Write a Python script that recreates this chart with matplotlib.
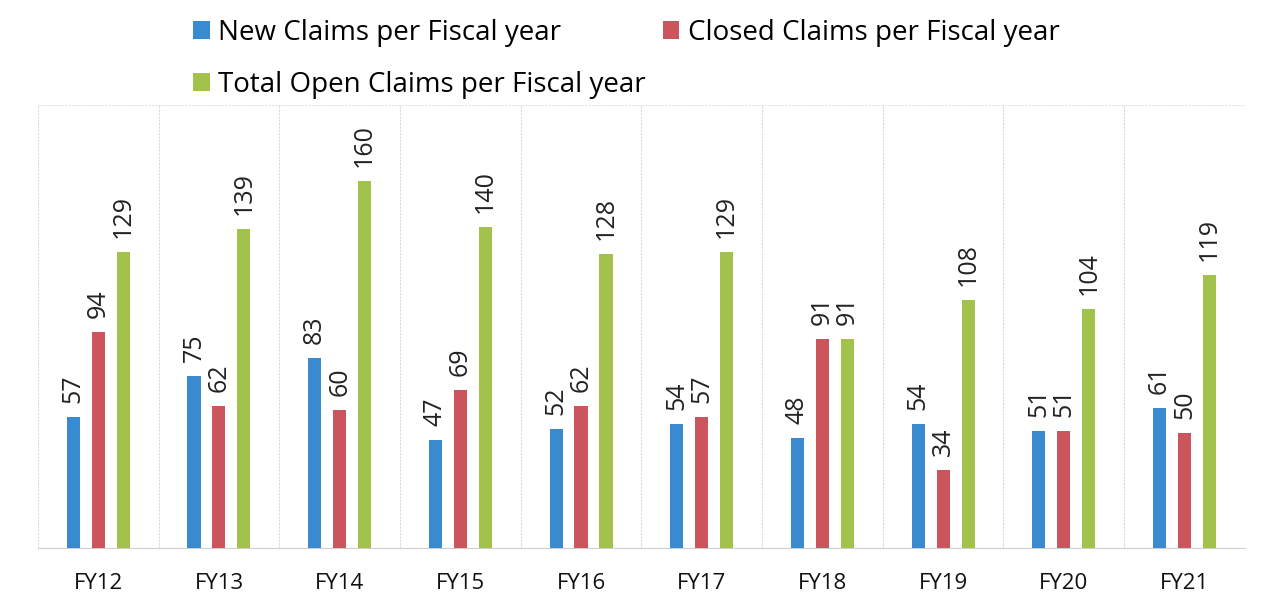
import numpy as np
import matplotlib
matplotlib.use("Agg")
import matplotlib.pyplot as plt

years = ["FY12", "FY13", "FY14", "FY15", "FY16", "FY17", "FY18", "FY19", "FY20", "FY21"]
new_claims = [57, 75, 83, 47, 52, 54, 48, 54, 51, 61]
closed_claims = [94, 62, 60, 69, 62, 57, 91, 34, 51, 50]
open_claims = [129, 139, 160, 140, 128, 129, 91, 108, 104, 119]

series = [
    ("New Claims per Fiscal year", new_claims, "#3a8ad0"),
    ("Closed Claims per Fiscal year", closed_claims, "#cc545c"),
    ("Total Open Claims per Fiscal year", open_claims, "#a2c24c"),
]

plt.rcParams["font.family"] = ["Open Sans", "DejaVu Sans"]

fig = plt.figure(figsize=(12.65, 6.11), dpi=100)
ax = fig.add_axes([0.030, 0.103, 0.954, 0.725])

x = np.arange(len(years))
width = 0.108
offset = 0.207
handles = []
for i, (name, vals, col) in enumerate(series):
    pos = x + (i - 1) * offset
    b = ax.bar(pos, vals, width, color=col, label=name, zorder=3)
    handles.append(b)
    for p, v in zip(pos, vals):
        ax.annotate(str(v), (p, v), xytext=(0, 10), textcoords="offset points",
                    rotation=90, ha="center", va="bottom", fontsize=18, color="#222222")

ax.set_xlim(-0.5, len(years) - 0.5)
ax.set_ylim(0, 193)
ax.set_xticks(x)
ax.set_xticklabels(years, fontsize=16, color="#111111")
ax.tick_params(axis="x", length=0, pad=18)
ax.set_yticks([])
for b in np.arange(len(years) + 1) - 0.5:
    ax.axvline(b, color="#dadada", lw=0.8, ls=(0, (2, 1)), zorder=1)
ax.axhline(193, color="#e4e4e4", lw=0.8, ls=(0, (2, 1)), zorder=1)
for s in ["top", "left", "right"]:
    ax.spines[s].set_visible(False)
ax.spines["bottom"].set_color("#d0d0d0")

# row-major order like the original: New, Closed on row 1, Total on row 2
order = [handles[0], handles[2], handles[1]]
fig.legend(handles=order, loc="upper left", bbox_to_anchor=(0.133, 1.01), ncol=2,
           frameon=False, fontsize=20, handlelength=0.6, handleheight=0.6,
           handletextpad=0.3, columnspacing=0.6, labelspacing=0.85)

fig.savefig("out.png", dpi=100)
